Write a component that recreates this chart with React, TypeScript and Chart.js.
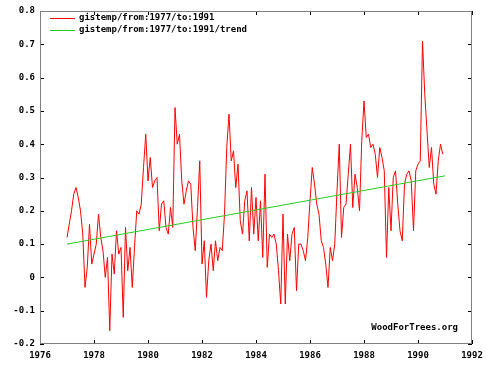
import React, { useEffect, useRef } from "react";
import { Chart, registerables } from "chart.js";

Chart.register(...registerables);

// ---- data ----
const START_YEAR = 1977;
// monthly GISTEMP anomalies, Jan 1977 .. Dec 1990
const gistemp = [
  0.12, 0.16, 0.2, 0.25, 0.27, 0.24, 0.2, 0.13, -0.03, 0.03, 0.16, 0.04, // 1977
  0.07, 0.1, 0.19, 0.12, 0.08, 0.0, 0.06, -0.16, 0.07, 0.01, 0.14, 0.07, // 1978
  0.09, -0.12, 0.15, 0.02, 0.09, -0.03, 0.09, 0.2, 0.19, 0.22, 0.33, 0.43, // 1979
  0.29, 0.36, 0.27, 0.29, 0.3, 0.14, 0.22, 0.23, 0.15, 0.13, 0.21, 0.15, // 1980
  0.51, 0.4, 0.43, 0.29, 0.22, 0.26, 0.29, 0.28, 0.15, 0.08, 0.21, 0.35, // 1981
  0.04, 0.11, -0.06, 0.05, 0.1, 0.02, 0.11, 0.05, 0.09, 0.08, 0.19, 0.39, // 1982
  0.49, 0.35, 0.38, 0.27, 0.34, 0.17, 0.13, 0.23, 0.26, 0.11, 0.27, 0.13, // 1983
  0.24, 0.11, 0.23, 0.06, 0.31, 0.03, 0.13, 0.12, 0.13, 0.1, 0.02, -0.08, // 1984
  0.19, -0.08, 0.13, 0.05, 0.13, 0.15, -0.04, 0.1, 0.1, 0.08, 0.05, 0.12, // 1985
  0.23, 0.33, 0.28, 0.22, 0.19, 0.11, 0.09, 0.04, -0.03, 0.09, 0.05, 0.1, // 1986
  0.26, 0.4, 0.12, 0.21, 0.22, 0.31, 0.4, 0.21, 0.31, 0.27, 0.2, 0.41, // 1987
  0.53, 0.42, 0.43, 0.39, 0.4, 0.37, 0.3, 0.39, 0.36, 0.32, 0.06, 0.27, // 1988
  0.14, 0.3, 0.32, 0.22, 0.14, 0.11, 0.28, 0.31, 0.32, 0.29, 0.14, 0.32, // 1989
  0.34, 0.35, 0.71, 0.55, 0.44, 0.33, 0.39, 0.28, 0.25, 0.35, 0.4, 0.37, // 1990
];
const trendYears = [1977, 1991];
const trendValues = [0.1, 0.305];
const xTicks = [1976, 1978, 1980, 1982, 1984, 1986, 1988, 1990, 1992];
const yTicks = [-0.2, -0.1, 0, 0.1, 0.2, 0.3, 0.4, 0.5, 0.6, 0.7, 0.8];
const seriesLabels = ["gistemp/from:1977/to:1991", "gistemp/from:1977/to:1991/trend"];
const seriesColors = ["#ff0000", "#22cc22"];
const credit = "WoodForTrees.org";

const FONT_FAMILY = '"DejaVu Sans Mono", "Liberation Mono", monospace';

const fmtY = (v: number) => {
  const r = Math.round(v * 10) / 10;
  return r === 0 ? "0" : r.toFixed(1);
};

const framePlugin = {
  id: "wftFrame",
  afterDraw(chart: any) {
    const { ctx, chartArea: a, scales } = chart;
    ctx.save();
    // ticks (inward, all four sides)
    ctx.strokeStyle = "#000";
    ctx.lineWidth = 1;
    ctx.beginPath();
    for (const v of yTicks) {
      const y = Math.round(scales.y.getPixelForValue(v)) + 0.5;
      ctx.moveTo(a.left, y);
      ctx.lineTo(a.left + 4, y);
      ctx.moveTo(a.right, y);
      ctx.lineTo(a.right - 4, y);
    }
    for (const v of xTicks) {
      const x = Math.round(scales.x.getPixelForValue(v)) + 0.5;
      ctx.moveTo(x, a.bottom);
      ctx.lineTo(x, a.bottom - 4);
      ctx.moveTo(x, a.top);
      ctx.lineTo(x, a.top + 4);
    }
    ctx.stroke();
    // frame
    ctx.strokeStyle = "#808080";
    ctx.lineWidth = 1;
    ctx.strokeRect(a.left + 0.5, a.top + 0.5, a.right - a.left - 1, a.bottom - a.top - 1);

    // legend
    ctx.font = `bold 9px ${FONT_FAMILY}`;
    ctx.textBaseline = "middle";
    ctx.textAlign = "left";
    seriesLabels.forEach((label, i) => {
      const y = a.top + 7 + i * 11.5;
      ctx.strokeStyle = seriesColors[i];
      ctx.beginPath();
      ctx.moveTo(a.left + 10, Math.round(y) + 0.5);
      ctx.lineTo(a.left + 35, Math.round(y) + 0.5);
      ctx.stroke();
      ctx.fillStyle = "#000";
      ctx.fillText(label, a.left + 39, y);
    });
    // credit
    ctx.textAlign = "right";
    ctx.fillText(credit, a.right - 14, a.bottom - 16);
    ctx.restore();
  },
};

export default function App() {
  const ref = useRef<HTMLCanvasElement | null>(null);
  useEffect(() => {
    document.body.style.margin = "0";
    const canvas = ref.current!;
    const font = { family: FONT_FAMILY, size: 9, weight: "bold" as const };
    const chart = new Chart(canvas, {
      type: "line",
      data: {
        datasets: [
          {
            label: seriesLabels[0],
            data: gistemp.map((v, i) => ({ x: START_YEAR + i / 12, y: v })),
            borderColor: seriesColors[0],
            borderWidth: 1,
            pointRadius: 0,
            tension: 0,
            fill: false,
            order: 1,
          },
          {
            label: seriesLabels[1],
            data: trendYears.map((x, i) => ({ x, y: trendValues[i] })),
            borderColor: seriesColors[1],
            borderWidth: 1,
            pointRadius: 0,
            tension: 0,
            fill: false,
            order: 0,
          },
        ],
      },
      options: {
        animation: false,
        responsive: false,
        maintainAspectRatio: false,
        devicePixelRatio: 1,
        layout: { padding: { top: 11, right: 15, left: 0, bottom: 0 } },
        plugins: { legend: { display: false }, tooltip: { enabled: false } },
        scales: {
          x: {
            type: "linear",
            min: 1976,
            max: 1992,
            grid: { display: false, drawTicks: false },
            border: { display: false },
            afterBuildTicks: (s: any) => {
              s.ticks = xTicks.map((value) => ({ value }));
            },
            afterFit: (s: any) => {
              s.height = 21;
              s.paddingLeft = 0;
              s.paddingRight = 0;
            },
            ticks: {
              font,
              color: "#000",
              padding: 6,
              maxRotation: 0,
              autoSkip: false,
              callback: (v: any) => String(v),
            },
          },
          y: {
            type: "linear",
            min: -0.2,
            max: 0.8,
            grid: { display: false, drawTicks: false },
            border: { display: false },
            afterBuildTicks: (s: any) => {
              s.ticks = yTicks.map((value) => ({ value }));
            },
            afterFit: (s: any) => {
              s.width = 40;
              s.paddingTop = 0;
              s.paddingBottom = 0;
            },
            ticks: {
              font,
              color: "#000",
              padding: 5,
              autoSkip: false,
              callback: (v: any) => fmtY(Number(v)),
            },
          },
        },
      },
      plugins: [framePlugin],
    });
    return () => chart.destroy();
  }, []);
  return (
    <div style={{ width: 487, height: 365, background: "#fff" }}>
      <canvas ref={ref} width={487} height={365} style={{ display: "block" }} />
    </div>
  );
}
